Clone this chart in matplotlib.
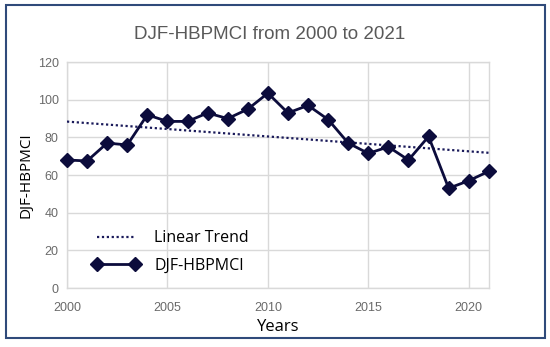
import numpy as np
import matplotlib
matplotlib.use("Agg")
import matplotlib.pyplot as plt
from matplotlib.patches import Rectangle

years = list(range(2000, 2022))
values = [68, 67.5, 77, 76, 92, 88.5, 88.5, 93, 90, 95, 103.5, 93, 97, 89.5,
          77, 71.5, 75, 68, 80.5, 53, 57, 62]
x_ticks = [2000, 2005, 2010, 2015, 2020]
y_ticks = [0, 20, 40, 60, 80, 100, 120]

title = "DJF-HBPMCI from 2000 to 2021"
series_label = "DJF-HBPMCI"
trend_label = "Linear Trend"

fig = plt.figure(figsize=(5.5, 3.47), dpi=100)
ax = fig.add_axes([0.1218, 0.170, 0.767, 0.651])

coef = np.polyfit(years, values, 1)
trend = np.polyval(coef, years)

navy = "#0c0c3c"
ax.plot(years, trend, linestyle=(0, (1, 1.2)), color="#1a1a5a", lw=1.6, label=trend_label, zorder=3)
ax.plot(years, values, color=navy, lw=2, marker="D", ms=7, mfc=navy, mec=navy,
        label=series_label, zorder=4, clip_on=False)

ax.set_xlim(2000, 2021)
ax.set_ylim(0, 120)
ax.set_xticks(x_ticks)
ax.set_yticks(y_ticks)
ax.grid(True, color="#d9d9d9", lw=1)
ax.set_axisbelow(True)
for s in ax.spines.values():
    s.set_color("#d9d9d9")
    s.set_linewidth(1)
ax.tick_params(length=0, labelsize=9, labelcolor="#6a6a6a", pad=6,
               labelfontfamily="Liberation Sans")
ax.tick_params(axis="x", pad=10)

ax.set_xlabel("Years", fontsize=12, family="Open Sans", color="black", labelpad=4)
ax.set_ylabel("DJF-HBPMCI", fontsize=11, family="Open Sans", color="black", labelpad=3)

fig.text(0.49, 0.90, title, ha="center", va="center", fontsize=13.5,
         family="Liberation Sans", color="#595959")

leg = ax.legend(loc="lower left", bbox_to_anchor=(0.025, 0.0), frameon=False,
                prop={"family": "Open Sans", "size": 11.5}, handlelength=3.0,
                labelspacing=0.7, numpoints=2, handletextpad=0.9)

fig.patches.append(Rectangle((0.01, 0.025), 0.98, 0.96, transform=fig.transFigure,
                             fill=False, edgecolor="#2f4a7a", lw=1.5))

fig.savefig("out.png", dpi=100)
